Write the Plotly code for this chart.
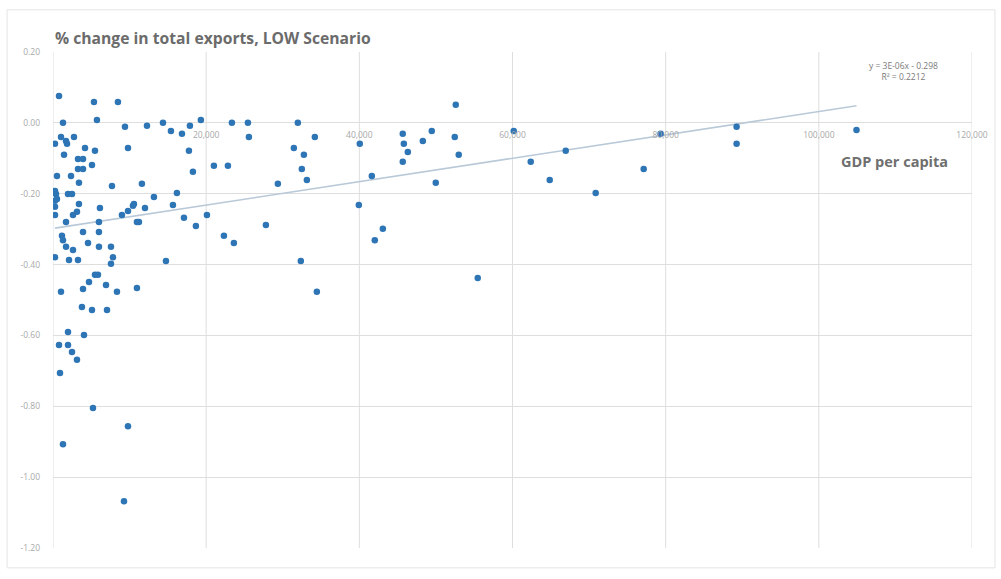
import plotly.graph_objects as go

# GDP per capita (x) and % change in total exports under the LOW scenario (y)
gdp_per_capita = [
    783, 5350, 8480, 1305, 5740, 9400, 1044, 2740, 261, 1700,
    1830, 9790, 4180, 5480, 1440, 3260, 3920, 5090, 3260, 3920,
    520, 2350, 3390, 261, 390, 520, 261, 1960, 2480, 7700,
    3390, 261, 6130, 10440, 3130, 2610, 9790, 9000, 261, 1700,
    6000, 10960, 3920, 6000, 1170, 1305, 4570, 1700, 2610, 6000,
    7570, 261, 2090, 3260, 7830, 7570, 5480, 5870, 4700, 1044,
    3920, 6920, 8350, 10960, 3780, 5090, 7050, 1960, 4050, 783,
    1960, 2480, 3130, 914, 5220, 9790, 1305, 9270, 12270, 14360,
    15400, 16840, 17880, 19310, 23360, 25450, 25580, 17750, 18270, 21010,
    22840, 11610, 16180, 13180, 29360, 10570, 12010, 15660, 20100, 17100,
    11220, 18660, 27800, 22320, 23620, 14750, 31970, 52590, 34190, 31450,
    32760, 32490, 33150, 40060, 45670, 45810, 46330, 48290, 49460, 52460,
    52980, 45670, 41630, 49980, 39930, 43070, 42020, 32360, 55460, 34450,
    60160, 79340, 66950, 62380, 77130, 64860, 70860, 89260, 89260, 104920,
]
export_change = [
    0.076, 0.059, 0.059, 0.000, 0.008, -0.011, -0.040, -0.040, -0.059, -0.051,
    -0.059, -0.071, -0.071, -0.079, -0.090, -0.102, -0.102, -0.119, -0.130, -0.130,
    -0.150, -0.150, -0.169, -0.192, -0.201, -0.215, -0.220, -0.201, -0.201, -0.178,
    -0.229, -0.237, -0.240, -0.234, -0.251, -0.260, -0.249, -0.260, -0.260, -0.280,
    -0.280, -0.280, -0.308, -0.308, -0.319, -0.331, -0.339, -0.350, -0.359, -0.350,
    -0.350, -0.379, -0.387, -0.387, -0.379, -0.398, -0.429, -0.429, -0.449, -0.477,
    -0.469, -0.458, -0.477, -0.466, -0.520, -0.528, -0.528, -0.590, -0.599, -0.627,
    -0.627, -0.647, -0.669, -0.706, -0.805, -0.856, -0.907, -1.068, -0.008, 0.000,
    -0.023, -0.031, -0.008, 0.008, 0.000, 0.000, -0.040, -0.079, -0.138, -0.121,
    -0.121, -0.172, -0.198, -0.209, -0.172, -0.229, -0.240, -0.232, -0.260, -0.268,
    -0.280, -0.291, -0.288, -0.319, -0.339, -0.390, 0.000, 0.051, -0.040, -0.071,
    -0.090, -0.130, -0.161, -0.059, -0.031, -0.059, -0.082, -0.051, -0.023, -0.040,
    -0.090, -0.110, -0.150, -0.169, -0.232, -0.299, -0.331, -0.390, -0.438, -0.477,
    -0.023, -0.031, -0.079, -0.110, -0.130, -0.161, -0.198, -0.011, -0.059, -0.020,
]

# Linear trendline coefficients
trend_slope = 3.3e-06
trend_intercept = -0.298
trend_label = "y = 3E-06x - 0.298<br>R² = 0.2212"

x_ticks = [20000, 40000, 60000, 80000, 100000, 120000]
x_tick_text = ["20,000", "40,000", "60,000", "80,000", "100,000", "120,000"]
y_ticks = [0.2, 0.0, -0.2, -0.4, -0.6, -0.8, -1.0, -1.2]
y_tick_text = ["0.20", "0.00", "-0.20", "-0.40", "-0.60", "-0.80", "-1.00", "-1.20"]

X_RANGE = [0, 120000]
Y_RANGE = [-1.2, 0.2]

trend_x = [min(gdp_per_capita), max(gdp_per_capita)]
trend_y = [trend_slope * v + trend_intercept for v in trend_x]

fig = go.Figure()

# vertical gridlines drawn as shapes so the x axis itself can sit on y = 0
for v in [0] + x_ticks:
    fig.add_shape(type="line", xref="x", yref="paper", x0=v, x1=v, y0=0, y1=1,
                  line=dict(color="#dedede", width=1), layer="below")

fig.add_trace(go.Scatter(
    x=trend_x, y=trend_y, mode="lines",
    line=dict(color="#b9c9d8", width=1.6),
    hoverinfo="skip", showlegend=False,
))
fig.add_trace(go.Scatter(
    x=gdp_per_capita, y=export_change, mode="markers",
    marker=dict(color="#2E75B6", size=6.5, line=dict(width=0)),
    showlegend=False,
))

zero_pos = (0 - Y_RANGE[0]) / (Y_RANGE[1] - Y_RANGE[0])

fig.update_layout(
    width=1001, height=579,
    margin=dict(l=53, r=29, t=52, b=31),
    paper_bgcolor="white", plot_bgcolor="white",
    font=dict(family="Open Sans, Liberation Sans, sans-serif", color="#8c8c8c"),
    xaxis=dict(
        range=X_RANGE, tickvals=x_ticks, ticktext=x_tick_text,
        showgrid=False, zeroline=False, showline=False,
        anchor="free", position=zero_pos, ticks="",
        ticklabelstandoff=6,
        tickfont=dict(size=8.5, color="#a8a8a8"),
    ),
    yaxis=dict(
        range=Y_RANGE, tickvals=y_ticks, ticktext=y_tick_text,
        showgrid=True, gridcolor="#dedede", gridwidth=1,
        zeroline=False, showline=False, ticks="",
        ticklabelstandoff=12,
        tickfont=dict(size=8.5, color="#a8a8a8"),
    ),
)

# chart title
fig.add_annotation(
    xref="paper", yref="paper", x=0.0, y=1.0, xanchor="left", yanchor="bottom",
    yshift=1, text="<b>% change in total exports, LOW Scenario</b>", showarrow=False,
    font=dict(size=15.7, color="#6b6b6b"),
)
# x axis title
fig.add_annotation(
    xref="x", yref="y", x=109900, y=-0.11, xanchor="center", yanchor="middle",
    text="<b>GDP per capita</b>", showarrow=False,
    font=dict(size=14.5, color="#6f6f6f"),
)
# trendline equation
fig.add_annotation(
    xref="x", yref="y", x=111000, y=0.145, xanchor="center", yanchor="middle",
    text=trend_label, showarrow=False, align="center",
    font=dict(size=8.5, color="#7a7a7a"),
)

# light border around the whole chart area
fig.add_shape(type="rect", xref="paper", yref="paper",
              x0=-0.05, x1=1.025, y0=-0.04, y1=1.085,
              line=dict(color="#e4e4e4", width=1), layer="below")

fig.write_html("out.html")
